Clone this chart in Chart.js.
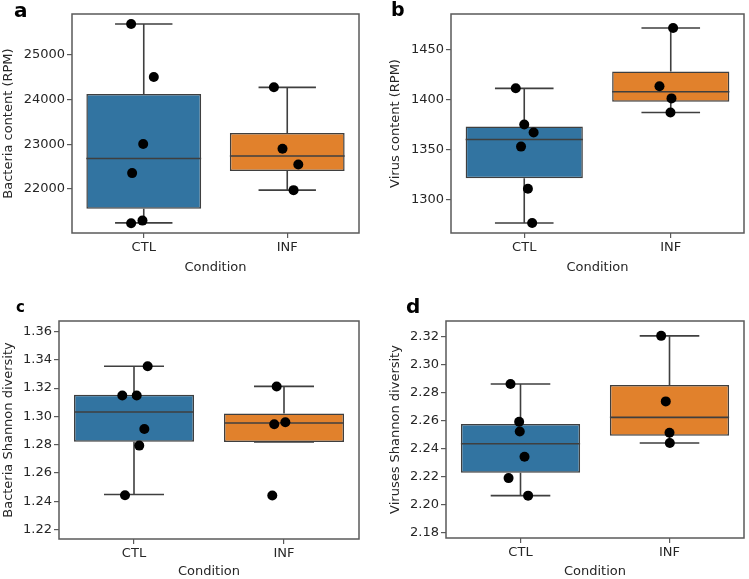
<!DOCTYPE html>
<html>
<head>
<meta charset="utf-8">
<script src="https://cdn.jsdelivr.net/npm/chart.js@4.4.1/dist/chart.umd.min.js"></script>
<style>
  body { margin: 0; background: #fff; }
  #fig { position: relative; width: 749px; height: 579px; overflow: hidden; }
  .panel { position: absolute; }
  .tag { position: absolute; font-family: "DejaVu Sans", sans-serif; font-weight: bold; line-height: 1; color: #000; }
</style>
</head>
<body>
<div id="fig">
  <div class="panel" style="left:0;top:0;width:375px;height:290px"><canvas id="chartA"></canvas></div>
  <div class="panel" style="left:375px;top:0;width:374px;height:290px"><canvas id="chartB"></canvas></div>
  <div class="panel" style="left:0;top:290px;width:375px;height:289px"><canvas id="chartC"></canvas></div>
  <div class="panel" style="left:375px;top:290px;width:374px;height:289px"><canvas id="chartD"></canvas></div>
  <div class="tag" style="left:14px;top:0;font-size:20px">a</div>
  <div class="tag" style="left:391px;top:0;font-size:19px">b</div>
  <div class="tag" style="left:16px;top:300px;font-size:15px">c</div>
  <div class="tag" style="left:406px;top:296px;font-size:20px">d</div>
</div>
<script>
const groups = ["CTL", "INF"];

// box arrays: lower whisker, q1, median, q3, upper whisker

// a - bacteria content (RPM)
const bacteriaCtl = [25697, 24506, 23007, 22353, 21288, 21229];
const bacteriaInf = [24276, 22899, 22546, 21971];
const bacteriaBoxCtl = [21236, 21551, 22681, 24128, 25697];
const bacteriaBoxInf = [21971, 22398, 22735, 23251, 24276];
const bacteriaTicks = [22000, 23000, 24000, 25000];

// b - virus content (RPM)
const virusCtl = [1411, 1375, 1367, 1353, 1311, 1277];
const virusInf = [1471, 1413, 1401, 1387];
const virusBoxCtl = [1277, 1321.5, 1360, 1373, 1411];
const virusBoxInf = [1387, 1397.7, 1407.6, 1427.8, 1471];
const virusTicks = [1300, 1350, 1400, 1450];

// c - bacteria Shannon diversity
const bactShannonCtl = [1.3355, 1.3148, 1.3148, 1.2911, 1.2793, 1.2442];
const bactShannonInf = [1.3212, 1.2944, 1.2958, 1.2440];
const bactShannonBoxCtl = [1.2447, 1.2821, 1.3031, 1.3153, 1.3355];
const bactShannonBoxInf = [1.2819, 1.2819, 1.2953, 1.3021, 1.3212];
const bactShannonTicks = [1.22, 1.24, 1.26, 1.28, 1.30, 1.32, 1.34, 1.36];

// d - viruses Shannon diversity
const virShannonCtl = [2.2862, 2.2593, 2.2523, 2.2343, 2.2191, 2.2066];
const virShannonInf = [2.3205, 2.2738, 2.2514, 2.2441];
const virShannonBoxCtl = [2.2066, 2.2229, 2.2436, 2.2577, 2.2862];
const virShannonBoxInf = [2.2441, 2.2493, 2.2624, 2.2855, 2.3205];
const virShannonTicks = [2.18, 2.20, 2.22, 2.24, 2.26, 2.28, 2.30, 2.32];

// horizontal strip jitter (in category units)
const jitterA = [[-0.088, 0.07, -0.004, -0.081, -0.009, -0.088], [-0.093, -0.033, 0.077, 0.044]];
const jitterB = [[-0.058, 0, 0.064, -0.022, 0.025, 0.054], [0.016, -0.077, 0.005, -0.002]];
const jitterC = [[0.091, -0.078, 0.018, 0.069, 0.035, -0.06], [-0.049, -0.065, 0.009, -0.078]];
const jitterD = [[-0.067, -0.009, -0.005, 0.027, -0.08, 0.051], [-0.056, -0.025, 0, 0.002]];

const boxColors = ["#3274a1", "#e1812c"];
const lineColor = "#3f3f3f";
const frameColor = "#5a5a5a";
const textColor = "#262626";

Chart.defaults.font.family = "'DejaVu Sans', sans-serif";
Chart.defaults.font.size = 13;
Chart.defaults.color = textColor;

function makePanel(id, p) {
  const points = [];
  p.ctl.forEach((v, i) => points.push({ x: 0 + p.jitter[0][i], y: v }));
  p.inf.forEach((v, i) => points.push({ x: 1 + p.jitter[1][i], y: v }));
  const boxes = [p.boxCtl, p.boxInf];

  const boxParts = {
    id: "boxParts",
    afterDatasetDraw(chart, args) {
      if (args.meta.type !== "bar") return;
      const ctx = chart.ctx;
      const y = chart.scales.y;
      ctx.save();
      ctx.strokeStyle = lineColor;
      ctx.lineWidth = 1.6;
      args.meta.data.forEach((bar, i) => {
        const [lo, q1, med, q3, hi] = boxes[i];
        const half = bar.width / 2;
        const cap = bar.width / 4;
        ctx.beginPath();
        ctx.moveTo(bar.x - half, y.getPixelForValue(med));
        ctx.lineTo(bar.x + half, y.getPixelForValue(med));
        ctx.moveTo(bar.x, y.getPixelForValue(q3));
        ctx.lineTo(bar.x, y.getPixelForValue(hi));
        ctx.moveTo(bar.x, y.getPixelForValue(q1));
        ctx.lineTo(bar.x, y.getPixelForValue(lo));
        ctx.moveTo(bar.x - cap, y.getPixelForValue(hi));
        ctx.lineTo(bar.x + cap, y.getPixelForValue(hi));
        ctx.moveTo(bar.x - cap, y.getPixelForValue(lo));
        ctx.lineTo(bar.x + cap, y.getPixelForValue(lo));
        ctx.stroke();
      });
      ctx.restore();
    },
    afterDraw(chart) {
      const a = chart.chartArea;
      const ctx = chart.ctx;
      ctx.save();
      ctx.strokeStyle = frameColor;
      ctx.lineWidth = 1.5;
      ctx.strokeRect(a.left, a.top, a.right - a.left, a.bottom - a.top);
      ctx.restore();
    }
  };

  return new Chart(document.getElementById(id), {
    type: "bar",
    data: {
      datasets: [
        {
          type: "scatter",
          data: points,
          pointRadius: 5,
          pointBackgroundColor: "#000",
          pointBorderWidth: 0
        },
        {
          type: "bar",
          data: [
            { x: 0, y: [p.boxCtl[1], p.boxCtl[3]] },
            { x: 1, y: [p.boxInf[1], p.boxInf[3]] }
          ],
          backgroundColor: boxColors,
          borderColor: lineColor,
          borderWidth: 1.5,
          borderSkipped: false,
          barPercentage: 0.8,
          categoryPercentage: 1.0
        }
      ]
    },
    options: {
      responsive: true,
      maintainAspectRatio: false,
      animation: false,
      events: [],
      layout: { padding: { left: 0, right: p.padRight, top: p.padTop, bottom: 0 } },
      plugins: { legend: { display: false }, tooltip: { enabled: false } },
      scales: {
        x: {
          type: "linear",
          min: -0.5,
          max: 1.5,
          offset: false,
          afterBuildTicks: s => { s.ticks = [{ value: 0 }, { value: 1 }]; },
          afterFit: s => { s.height = p.xHeight; },
          ticks: { padding: 2, callback: (v, i) => groups[i], maxRotation: 0 },
          grid: { offset: false, drawOnChartArea: false, tickLength: 5, color: frameColor, lineWidth: 1.2 },
          border: { display: false },
          title: { display: true, text: "Condition", padding: { top: 0, bottom: p.xTitlePad } }
        },
        y: {
          type: "linear",
          min: p.yMin,
          max: p.yMax,
          afterBuildTicks: s => { s.ticks = p.ticks.map(v => ({ value: v })); },
          afterFit: s => { s.width = p.yWidth; },
          ticks: { padding: 2, callback: v => p.decimals ? v.toFixed(p.decimals) : String(v) },
          grid: { drawOnChartArea: false, tickLength: 5, color: frameColor, lineWidth: 1.2 },
          border: { display: false },
          title: { display: true, text: p.yTitle, padding: { top: p.yTitlePad, bottom: 0 } }
        }
      }
    },
    plugins: [boxParts]
  });
}

makePanel("chartA", {
  ctl: bacteriaCtl, inf: bacteriaInf, boxCtl: bacteriaBoxCtl, boxInf: bacteriaBoxInf,
  ticks: bacteriaTicks, yMin: 21010, yMax: 25920, decimals: 0, jitter: jitterA,
  yTitle: "Bacteria content (RPM)", yWidth: 72, yTitlePad: 1,
  padTop: 14, padRight: 16, xHeight: 57, xTitlePad: 15
});
makePanel("chartB", {
  ctl: virusCtl, inf: virusInf, boxCtl: virusBoxCtl, boxInf: virusBoxInf,
  ticks: virusTicks, yMin: 1267, yMax: 1485, decimals: 0, jitter: jitterB,
  yTitle: "Virus content (RPM)", yWidth: 76, yTitlePad: 13,
  padTop: 14, padRight: 3, xHeight: 57, xTitlePad: 15
});
makePanel("chartC", {
  ctl: bactShannonCtl, inf: bactShannonInf, boxCtl: bactShannonBoxCtl, boxInf: bactShannonBoxInf,
  ticks: bactShannonTicks, yMin: 1.2132, yMax: 1.3675, decimals: 2, jitter: jitterC,
  yTitle: "Bacteria Shannon diversity", yWidth: 59, yTitlePad: 1,
  padTop: 31, padRight: 16, xHeight: 40, xTitlePad: 0
});
makePanel("chartD", {
  ctl: virShannonCtl, inf: virShannonInf, boxCtl: virShannonBoxCtl, boxInf: virShannonBoxInf,
  ticks: virShannonTicks, yMin: 2.1764, yMax: 2.3311, decimals: 2, jitter: jitterD,
  yTitle: "Viruses Shannon diversity", yWidth: 71, yTitlePad: 13,
  padTop: 31, padRight: 3, xHeight: 41, xTitlePad: 0
});
</script>
</body>
</html>
